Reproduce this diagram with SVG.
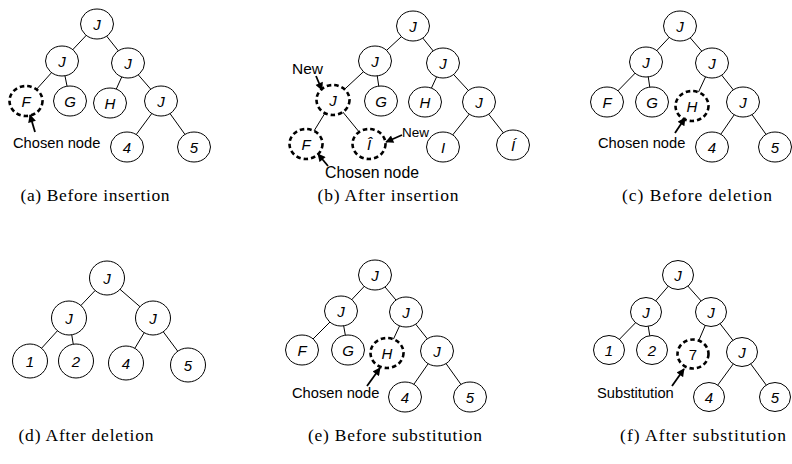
<svg xmlns="http://www.w3.org/2000/svg" width="792" height="464" viewBox="0 0 792 464">
<style>
.n ellipse{fill:#fff;stroke:#000;stroke-width:1}
.d ellipse{fill:#fff;stroke:#000;stroke-width:2.6;stroke-dasharray:4.5 3}
text.t{font-family:"Liberation Sans",Arial,sans-serif;font-size:15px;font-style:italic;text-anchor:middle;fill:#000}
text.u{font-style:normal}
.lbl{font-family:"Liberation Sans",Arial,sans-serif;font-size:14.7px;fill:#000}
.cap{font-family:"Liberation Serif","Times New Roman",serif;font-size:17.5px;fill:#000;text-anchor:middle}
#connectors line{stroke:#000;stroke-width:1}
.arr{stroke:#000;stroke-width:1.8;fill:none;marker-end:url(#ah)}
</style>
<defs>
<marker id="ah" viewBox="0 0 10 10" refX="9" refY="5" markerWidth="9" markerHeight="8" markerUnits="userSpaceOnUse" orient="auto">
<path d="M0,0 L10,5 L0,10 Z" fill="#000"/>
</marker>
</defs>
<g id="connectors">
<line x1="97" y1="24" x2="62" y2="61"/><line x1="97" y1="24" x2="128" y2="63"/>
<line x1="62" y1="61" x2="26" y2="101"/><line x1="62" y1="61" x2="70" y2="101"/>
<line x1="128" y1="63" x2="110" y2="103"/><line x1="128" y1="63" x2="161" y2="101"/>
<line x1="161" y1="101" x2="127" y2="147"/><line x1="161" y1="101" x2="194" y2="147"/>
<line x1="413" y1="26" x2="375" y2="61"/><line x1="413" y1="26" x2="443" y2="63"/>
<line x1="375" y1="61" x2="333" y2="100"/><line x1="375" y1="61" x2="381" y2="101"/>
<line x1="443" y1="63" x2="425" y2="102"/><line x1="443" y1="63" x2="479" y2="102"/>
<line x1="333" y1="100" x2="306" y2="144"/><line x1="333" y1="100" x2="369" y2="144"/>
<line x1="479" y1="102" x2="443" y2="147"/><line x1="479" y1="102" x2="513" y2="145"/>
<line x1="680" y1="26" x2="646" y2="62"/><line x1="680" y1="26" x2="712" y2="63"/>
<line x1="646" y1="62" x2="607" y2="102"/><line x1="646" y1="62" x2="652" y2="102"/>
<line x1="712" y1="63" x2="692" y2="106"/><line x1="712" y1="63" x2="743" y2="102"/>
<line x1="743" y1="102" x2="712" y2="147"/><line x1="743" y1="102" x2="775" y2="147"/>
<line x1="107" y1="278" x2="69" y2="318"/><line x1="107" y1="278" x2="153" y2="318"/>
<line x1="69" y1="318" x2="30" y2="361"/><line x1="69" y1="318" x2="76" y2="361"/>
<line x1="153" y1="318" x2="126" y2="363"/><line x1="153" y1="318" x2="188" y2="365"/>
<line x1="375" y1="275" x2="341" y2="311"/><line x1="375" y1="275" x2="406" y2="312"/>
<line x1="341" y1="311" x2="302" y2="350"/><line x1="341" y1="311" x2="348" y2="350"/>
<line x1="406" y1="312" x2="387" y2="353"/><line x1="406" y1="312" x2="437" y2="351"/>
<line x1="437" y1="351" x2="405" y2="397"/><line x1="437" y1="351" x2="470" y2="397"/>
<line x1="678" y1="275" x2="646" y2="312"/><line x1="678" y1="275" x2="711" y2="312"/>
<line x1="646" y1="312" x2="609" y2="350"/><line x1="646" y1="312" x2="652" y2="350"/>
<line x1="711" y1="312" x2="693" y2="354"/><line x1="711" y1="312" x2="742" y2="352"/>
<line x1="742" y1="352" x2="709" y2="397"/><line x1="742" y1="352" x2="775" y2="397"/>
</g>
<!-- panel a -->
<g id="a_root" class="n"><ellipse cx="97" cy="24" rx="16.5" ry="15"/><text class="t" x="97" y="29.5">J</text></g>
<g id="a_l" class="n"><ellipse cx="62" cy="61" rx="16.5" ry="15"/><text class="t" x="62" y="66.5">J</text></g>
<g id="a_r" class="n"><ellipse cx="128" cy="63" rx="16.5" ry="15"/><text class="t" x="128" y="68.5">J</text></g>
<g id="a_F" class="d"><ellipse cx="26" cy="101" rx="16.5" ry="15"/><text class="t" x="26" y="106.5">F</text></g>
<g id="a_G" class="n"><ellipse cx="70" cy="101" rx="16.5" ry="15"/><text class="t" x="70" y="106.5">G</text></g>
<g id="a_H" class="n"><ellipse cx="110" cy="103" rx="16.5" ry="15"/><text class="t" x="110" y="108.5">H</text></g>
<g id="a_J" class="n"><ellipse cx="161" cy="101" rx="16.5" ry="15"/><text class="t" x="161" y="106.5">J</text></g>
<g id="a_4" class="n"><ellipse cx="127" cy="147" rx="16.5" ry="15"/><text class="t" x="127" y="152.5">4</text></g>
<g id="a_5" class="n"><ellipse cx="194" cy="147" rx="16.5" ry="15"/><text class="t" x="194" y="152.5">5</text></g>
<g id="a_note"><text class="lbl" x="13" y="148">Chosen node</text><line class="arr" x1="35" y1="132" x2="30" y2="115"/></g>
<!-- panel b -->
<g id="b_root" class="n"><ellipse cx="413" cy="26" rx="16.5" ry="15"/><text class="t" x="413" y="31.5">J</text></g>
<g id="b_l" class="n"><ellipse cx="375" cy="61" rx="16.5" ry="15"/><text class="t" x="375" y="66.5">J</text></g>
<g id="b_r" class="n"><ellipse cx="443" cy="63" rx="16.5" ry="15"/><text class="t" x="443" y="68.5">J</text></g>
<g id="b_newJ" class="d"><ellipse cx="333" cy="100" rx="16.5" ry="15"/><text class="t" x="333" y="105.5">J</text></g>
<g id="b_G" class="n"><ellipse cx="381" cy="101" rx="16.5" ry="15"/><text class="t" x="381" y="106.5">G</text></g>
<g id="b_H" class="n"><ellipse cx="425" cy="102" rx="16.5" ry="15"/><text class="t" x="425" y="107.5">H</text></g>
<g id="b_J" class="n"><ellipse cx="479" cy="102" rx="16.5" ry="15"/><text class="t" x="479" y="107.5">J</text></g>
<g id="b_F" class="d"><ellipse cx="306" cy="144" rx="16.5" ry="15"/><text class="t" x="306" y="149.5">F</text></g>
<g id="b_Icirc" class="d"><ellipse cx="369" cy="144" rx="16.5" ry="15"/><text class="t" x="369" y="149.5">Î</text></g>
<g id="b_I" class="n"><ellipse cx="443" cy="147" rx="16.5" ry="15"/><text class="t" x="443" y="152.5">I</text></g>
<g id="b_Iacute" class="n"><ellipse cx="513" cy="145" rx="16.5" ry="15"/><text class="t" x="513" y="150.5">Í</text></g>
<g id="b_note1"><text class="lbl" x="292" y="74" style="font-size:15.5px">New</text><line class="arr" x1="316" y1="76" x2="322" y2="90"/></g>
<g id="b_note2"><text class="lbl" x="402" y="137" style="font-size:13.5px">New</text><line class="arr" x1="402" y1="135" x2="386" y2="142"/></g>
<g id="b_note3"><text class="lbl" x="325" y="178" style="font-size:15.8px">Chosen node</text><line class="arr" x1="328" y1="166" x2="318" y2="154"/></g>
<!-- panel c -->
<g id="c_root" class="n"><ellipse cx="680" cy="26" rx="16.5" ry="15"/><text class="t" x="680" y="31.5">J</text></g>
<g id="c_l" class="n"><ellipse cx="646" cy="62" rx="16.5" ry="15"/><text class="t" x="646" y="67.5">J</text></g>
<g id="c_r" class="n"><ellipse cx="712" cy="63" rx="16.5" ry="15"/><text class="t" x="712" y="68.5">J</text></g>
<g id="c_F" class="n"><ellipse cx="607" cy="102" rx="16.5" ry="15"/><text class="t" x="607" y="107.5">F</text></g>
<g id="c_G" class="n"><ellipse cx="652" cy="102" rx="16.5" ry="15"/><text class="t" x="652" y="107.5">G</text></g>
<g id="c_H" class="d"><ellipse cx="692" cy="106" rx="16.5" ry="15"/><text class="t" x="692" y="111.5">H</text></g>
<g id="c_J" class="n"><ellipse cx="743" cy="102" rx="16.5" ry="15"/><text class="t" x="743" y="107.5">J</text></g>
<g id="c_4" class="n"><ellipse cx="712" cy="147" rx="16.5" ry="15"/><text class="t" x="712" y="152.5">4</text></g>
<g id="c_5" class="n"><ellipse cx="775" cy="147" rx="16.5" ry="15"/><text class="t" x="775" y="152.5">5</text></g>
<g id="c_note"><text class="lbl" x="598" y="148">Chosen node</text><line class="arr" x1="675" y1="133" x2="685" y2="118"/></g>
<!-- panel d -->
<g id="d_root" class="n"><ellipse cx="107" cy="278" rx="17.5" ry="17"/><text class="t" x="107" y="283.5">J</text></g>
<g id="d_l" class="n"><ellipse cx="69" cy="318" rx="17.5" ry="17"/><text class="t" x="69" y="323.5">J</text></g>
<g id="d_r" class="n"><ellipse cx="153" cy="318" rx="17.5" ry="17"/><text class="t" x="153" y="323.5">J</text></g>
<g id="d_1" class="n"><ellipse cx="30" cy="361" rx="17.5" ry="17"/><text class="t" x="30" y="366.5">1</text></g>
<g id="d_2" class="n"><ellipse cx="76" cy="361" rx="17.5" ry="17"/><text class="t" x="76" y="366.5">2</text></g>
<g id="d_4" class="n"><ellipse cx="126" cy="363" rx="17.5" ry="17"/><text class="t" x="126" y="368.5">4</text></g>
<g id="d_5" class="n"><ellipse cx="188" cy="365" rx="17.5" ry="17"/><text class="t" x="188" y="370.5">5</text></g>
<!-- panel e -->
<g id="e_root" class="n"><ellipse cx="375" cy="275" rx="16.5" ry="15"/><text class="t" x="375" y="280.5">J</text></g>
<g id="e_l" class="n"><ellipse cx="341" cy="311" rx="16.5" ry="15"/><text class="t" x="341" y="316.5">J</text></g>
<g id="e_r" class="n"><ellipse cx="406" cy="312" rx="16.5" ry="15"/><text class="t" x="406" y="317.5">J</text></g>
<g id="e_F" class="n"><ellipse cx="302" cy="350" rx="16.5" ry="15"/><text class="t" x="302" y="355.5">F</text></g>
<g id="e_G" class="n"><ellipse cx="348" cy="350" rx="16.5" ry="15"/><text class="t" x="348" y="355.5">G</text></g>
<g id="e_H" class="d"><ellipse cx="387" cy="353" rx="16.5" ry="15"/><text class="t" x="387" y="358.5">H</text></g>
<g id="e_J" class="n"><ellipse cx="437" cy="351" rx="16.5" ry="15"/><text class="t" x="437" y="356.5">J</text></g>
<g id="e_4" class="n"><ellipse cx="405" cy="397" rx="16.5" ry="15"/><text class="t" x="405" y="402.5">4</text></g>
<g id="e_5" class="n"><ellipse cx="470" cy="397" rx="16.5" ry="15"/><text class="t" x="470" y="402.5">5</text></g>
<g id="e_note"><text class="lbl" x="292" y="398">Chosen node</text><line class="arr" x1="367" y1="386" x2="380" y2="368"/></g>
<!-- panel f -->
<g id="f_root" class="n"><ellipse cx="678" cy="275" rx="15.5" ry="14.5"/><text class="t" x="678" y="280.5">J</text></g>
<g id="f_l" class="n"><ellipse cx="646" cy="312" rx="15.5" ry="14.5"/><text class="t" x="646" y="317.5">J</text></g>
<g id="f_r" class="n"><ellipse cx="711" cy="312" rx="15.5" ry="14.5"/><text class="t" x="711" y="317.5">J</text></g>
<g id="f_1" class="n"><ellipse cx="609" cy="350" rx="15.5" ry="14.5"/><text class="t" x="609" y="355.5">1</text></g>
<g id="f_2" class="n"><ellipse cx="652" cy="350" rx="15.5" ry="14.5"/><text class="t" x="652" y="355.5">2</text></g>
<g id="f_7" class="d"><ellipse cx="693" cy="354" rx="15.5" ry="14.5"/><text class="t u" x="693" y="359.5">7</text></g>
<g id="f_J" class="n"><ellipse cx="742" cy="352" rx="15.5" ry="14.5"/><text class="t" x="742" y="357.5">J</text></g>
<g id="f_4" class="n"><ellipse cx="709" cy="397" rx="15.5" ry="14.5"/><text class="t" x="709" y="402.5">4</text></g>
<g id="f_5" class="n"><ellipse cx="775" cy="397" rx="15.5" ry="14.5"/><text class="t" x="775" y="402.5">5</text></g>
<g id="f_note"><text class="lbl" x="597" y="398">Substitution</text><line class="arr" x1="672" y1="386" x2="684" y2="369"/></g>
<!-- captions -->
<g id="captions">
<text class="cap" x="95" y="201" textLength="149">(a) Before insertion</text>
<text class="cap" x="388" y="201" textLength="141">(b) After insertion</text>
<text class="cap" x="697" y="201" textLength="150">(c) Before deletion</text>
<text class="cap" x="86" y="441" textLength="135">(d) After deletion</text>
<text class="cap" x="395" y="441" textLength="174">(e) Before substitution</text>
<text class="cap" x="703" y="441" textLength="166">(f) After substitution</text>
</g>
</svg>
